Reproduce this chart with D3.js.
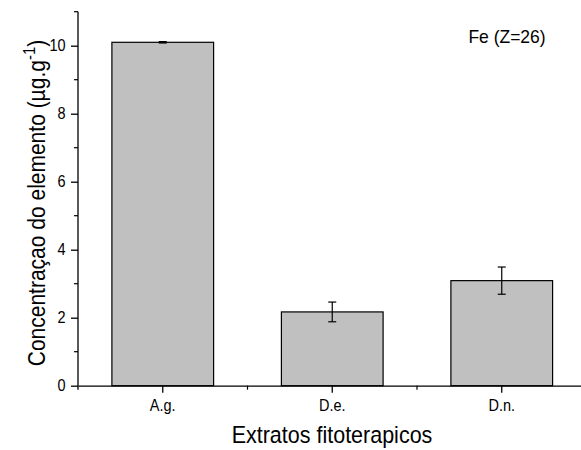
<!DOCTYPE html>
<html>
<head>
<meta charset="utf-8">
<script src="https://cdn.jsdelivr.net/npm/d3@7"></script>
<style>
  html, body { margin: 0; padding: 0; background: #fff; }
  svg { display: block; font-family: "Liberation Sans", Arial, sans-serif; }
</style>
</head>
<body>
<svg id="chart" width="581" height="450"></svg>
<script>
// Extract samples and measured Fe concentrations (µg/g) with standard deviations
const categories = ["A.g.", "D.e.", "D.n."];
const values = [10.1, 2.17, 3.09];
const errors = [0.02, 0.29, 0.40];
const yTicks = [0, 2, 4, 6, 8, 10];
const yMinorTicks = [1, 3, 5, 7, 9, 11];

// Glyphs are drawn slightly taller than the regular face
const STRETCH = 1.1;

const svg = d3.select("#chart");

const x = d3.scaleBand()
  .domain(categories)
  .range([78, 586.5])
  .paddingInner(0.4)
  .paddingOuter(0.2);

const y = d3.scaleLinear()
  .domain([0, 11])
  .range([385.7, 11.7]);

// Bars
svg.append("g").selectAll("rect")
  .data(categories)
  .join("rect")
  .attr("x", d => x(d))
  .attr("y", (d, i) => y(values[i]))
  .attr("width", x.bandwidth())
  .attr("height", (d, i) => y(0) - y(values[i]))
  .attr("fill", "#c0c0c0")
  .attr("stroke", "#000")
  .attr("stroke-width", 1.2);

// Error bars
const eb = svg.append("g").attr("stroke", "#000").attr("stroke-width", 1.2);
categories.forEach((c, i) => {
  const cx = x(c) + x.bandwidth() / 2;
  const hi = y(values[i] + errors[i]);
  const lo = y(values[i] - errors[i]);
  eb.append("line").attr("x1", cx).attr("x2", cx).attr("y1", hi).attr("y2", lo);
  eb.append("line").attr("x1", cx - 4).attr("x2", cx + 4).attr("y1", hi).attr("y2", hi);
  eb.append("line").attr("x1", cx - 4).attr("x2", cx + 4).attr("y1", lo).attr("y2", lo);
});

// Y axis with minor ticks
const yAxis = svg.append("g").attr("transform", `translate(${x.range()[0]},0)`);
yAxis.call(d3.axisLeft(y).tickValues(yTicks).tickSize(7).tickPadding(5.5).tickSizeOuter(0));
yAxis.selectAll(".minor").data(yMinorTicks).join("line")
  .attr("class", "minor")
  .attr("x1", 0).attr("x2", -4)
  .attr("y1", d => y(d)).attr("y2", d => y(d))
  .attr("stroke", "#000").attr("stroke-width", 1.2);
yAxis.select(".domain").attr("d", `M0,${y(0) + 4}V${y(11)}`);

// X axis with minor ticks between categories
const xAxis = svg.append("g").attr("transform", `translate(0,${y(0)})`);
xAxis.call(d3.axisBottom(x).tickSize(7).tickPadding(7).tickSizeOuter(0));
const xMinor = categories.slice(0, -1).map(c => x(c) + x.bandwidth() + x.step() * x.paddingInner() / 2);
xAxis.selectAll(".minor").data(xMinor).join("line")
  .attr("class", "minor")
  .attr("x1", d => d).attr("x2", d => d)
  .attr("y1", 0).attr("y2", 4)
  .attr("stroke", "#000").attr("stroke-width", 1.2);

svg.selectAll(".domain, .tick line").attr("stroke", "#000").attr("stroke-width", 1.3);
svg.selectAll(".tick text")
  .attr("fill", "#000")
  .style("font-size", "14.5px")
  .style("font-family", "'Liberation Sans', Arial, sans-serif");

// Stretch tick labels vertically: y labels around their centre, x labels around their top
yAxis.selectAll(".tick text").attr("transform", `scale(1,${STRETCH})`);
xAxis.selectAll(".tick text").attr("transform", `translate(0,14) scale(1,${STRETCH}) translate(0,-14)`);

// Axis titles
svg.append("text")
  .attr("transform", `translate(332,443) scale(1,${STRETCH})`)
  .attr("text-anchor", "middle")
  .style("font-size", "21.5px")
  .text("Extratos fitoterapicos");

const yTitle = svg.append("text")
  .attr("transform", `translate(45,203) rotate(-90) scale(1,${STRETCH})`)
  .attr("text-anchor", "middle")
  .style("font-size", "21px");
yTitle.append("tspan").text("Concentraçao do elemento (µg.g");
yTitle.append("tspan").attr("dy", -9).style("font-size", "15px").text("-1");
yTitle.append("tspan").attr("dy", 9).text(")");

// Element label
svg.append("text")
  .attr("transform", `translate(507,43) scale(1,${STRETCH})`)
  .attr("text-anchor", "middle")
  .style("font-size", "17.5px")
  .text("Fe (Z=26)");
</script>
</body>
</html>
